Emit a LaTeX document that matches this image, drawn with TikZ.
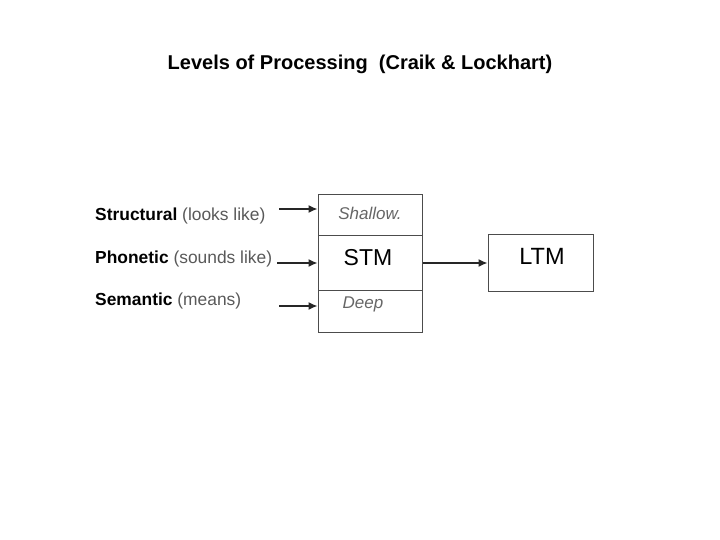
\documentclass[tikz,border=0pt]{standalone}
\usepackage{fontspec}
\setmainfont{Liberation Sans}
\usetikzlibrary{arrows.meta, positioning, calc}

\tikzset{
    levelbox/.style={draw=black!70, line width=1bp, minimum width=104bp, inner sep=0pt},
    feed/.style={-{Latex[length=9bp, width=8bp]}, line width=1.4bp, black!85},
    cue/.style={anchor=west, font=\fontsize{17.4bp}{19bp}\selectfont, inner sep=0pt},
    depth/.style={font=\fontsize{17bp}{19bp}\selectfont\itshape, text=black!60, inner sep=0pt}
}

\begin{document}
\begin{tikzpicture}[x=1bp, y=-1bp]
    \useasboundingbox (0,0) rectangle (720,540);

    % title
    \node[font=\fontsize{20bp}{23bp}\selectfont\bfseries] (title) at (360,64) {Levels of Processing\ \ (Craik \& Lockhart)};

    % STM column
    \node[levelbox, minimum height=41bp] (shallow) at (370,215.5) {};
    \node[levelbox, minimum height=54bp] (stm) at (370,263) {};
    \node[levelbox, minimum height=42bp] (deep) at (370,311) {};
    \node[depth] (shallowtxt) at (370,213) {Shallow.};
    \node[font=\fontsize{23bp}{25bp}\selectfont, inner sep=0pt] (stmtxt) at (368,258) {STM};
    \node[depth] (deeptxt) at (363,304) {Deep};

    % LTM
    \node[levelbox, minimum width=105bp, minimum height=56bp] (ltm) at (540.5,263) {};
    \node[font=\fontsize{23.5bp}{25bp}\selectfont, inner sep=0pt] (ltmtxt) at (542,256) {LTM};
    \draw[feed] (stm.east |- 0,263) -- (ltm.west |- 0,263);

    % cues on the left
    \node[cue] (structural) at (95,216) {\textbf{Structural} \textcolor{black!65}{(looks like)}};
    \node[cue] (phonetic) at (95,259) {\textbf{Phonetic} \textcolor{black!65}{(sounds like)}};
    \node[cue] (semantic) at (95,301) {\textbf{Semantic} \textcolor{black!65}{(means)}};

    \coordinate (structin) at (279,209);
    \coordinate (phonin) at (277,263);
    \coordinate (semin) at (279,306);
    \draw[feed] (structin) -- (structin -| shallow.west);
    \draw[feed] (phonin) -- (phonin -| stm.west);
    \draw[feed] (semin) -- (semin -| deep.west);
\end{tikzpicture}
\end{document}
